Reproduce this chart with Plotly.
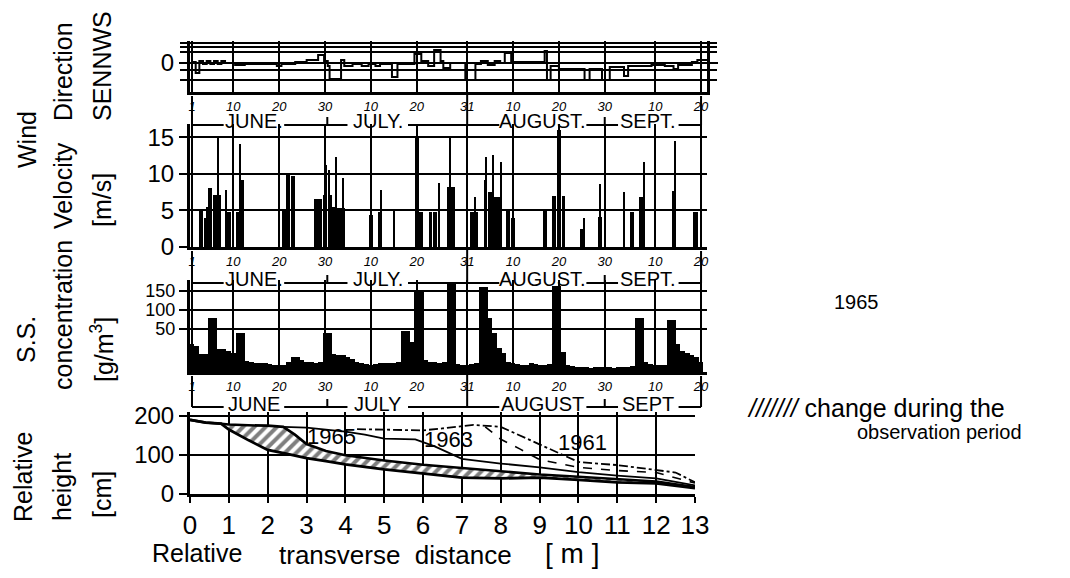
import plotly.graph_objects as go

# ---------------- data ----------------
# time axis: day index, 1 = 1 June 1965 ... 112 = 20 September
tick_days = [1, 10, 20, 30, 40, 50, 61, 71, 81, 91, 102, 112]
tick_text = ["1", "10", "20", "30", "10", "20", "31", "10", "20", "30", "10", "20"]
month_names = ["JUNE", "JULY", "AUGUST", "SEPT"]
month_centres = [14.5, 41.5, 77.5, 100.5]
month_bounds = [1, 30.5, 61, 91, 112]

# wind direction (step changes: day, deviation)
dir_days = [1, 1.8, 2.6, 3.4, 4.2, 5.0, 5.8, 6.6, 7.4, 8.2,
            10.4, 12.5, 19.5, 20.5, 23.5, 26, 28.5, 29.8, 30.6, 31.0,
            33.5, 34.2, 36, 38, 39.5, 41, 42, 44.6, 45.8, 49.5,
            51, 52.5, 53.8, 55.2, 55.8, 57.3, 60.6, 62.8, 64, 65.5,
            67, 68.2, 69.2, 70.6, 77.9, 78.4, 79.2, 81, 86.6, 87.7,
            90.4, 92.1, 95.2, 96.1, 101.2, 104.1, 106, 107, 110, 111.2,
            113.3]
dir_vals = [1, -10, 2, -1, 2, -1, 2, -1, 2, 0,
            -2, -1, -3, -1, 1, 3, 8, 2, -3, -16,
            3, -3, -1, -3, -1, -3, -1, -14, -1, 9,
            2, -3, 13, 2, -5, 0, -17, -1, 2, -2,
            2, 0, 10, 1, 12, -17, -3, -6, -17, -6,
            -17, -4, -13, -3, -2, -3, -6, -2, 1, 3,
            3]
dir_levels = [-17, -7, 11, 16, 20]

# wind velocity [m/s]: daily blocks and short gusts
vel_days = [3, 4, 5, 6, 7, 9, 11, 12, 21, 22, 23, 28, 29, 30, 31, 32, 33, 34,
            40, 42, 50, 51, 53, 54, 57, 58, 62, 63, 65, 66, 67, 68, 70, 71,
            78, 80, 81, 82, 86, 90, 97, 99, 106, 111]
vel_vals = [5.2, 3.9, 8.0, 7.1, 7.1, 4.8, 4.8, 9.1, 5.0, 9.8, 9.7, 6.6, 6.6, 7.1,
            7.1, 5.5, 5.3, 5.3, 4.4, 4.8, 15.0, 4.8, 4.8, 4.8, 8.2, 8.2, 4.8, 4.8,
            9.1, 7.5, 6.8, 6.8, 4.9, 4.0, 5.0, 7.0, 16.0, 7.0, 2.5, 4.1, 4.8, 6.8,
            7.7, 4.8]
gust_days = [4.4, 6.7, 8.5, 11.6, 30.3, 31.0, 32.5, 33.9, 42.3, 45.1, 55.0, 57.3,
             62.7, 65.1, 66.7, 68.4, 86.5, 89.9, 95.2, 99.5, 106.3, 110.4]
gust_vals = [5.4, 15.0, 7.8, 14.1, 11.2, 10.5, 12.3, 9.4, 7.8, 5.1, 8.7, 15.0,
             6.8, 12.3, 12.5, 11.6, 3.9, 8.6, 7.5, 11.6, 14.5, 4.8]
vel_ticks = [0, 5, 10, 15]

# suspended-sediment concentration [g/m3], daily, 1 June - 20 Sept
ss_vals = [33, 30, 21, 21, 80, 80, 27, 27, 25, 22,
           45, 45, 13, 12, 11, 10, 10, 9, 8, 8,
           8, 12, 18, 18, 14, 12, 12, 11, 12, 45,
           45, 21, 20, 20, 18, 15, 12, 10, 9, 8,
           9, 10, 10, 11, 10, 12, 48, 48, 35, 148,
           148, 14, 12, 12, 11, 12, 171, 171, 9, 8,
           8, 9, 10, 160, 160, 80, 45, 28, 22, 12,
           10, 9, 8, 8, 10, 9, 8, 8, 9, 163,
           163, 23, 8, 7, 6, 6, 6, 5, 6, 6,
           6, 6, 5, 6, 6, 6, 7, 78, 78, 12,
           9, 8, 8, 8, 73, 73, 33, 25, 22, 20,
           18, 12]
ss_days = list(range(1, len(ss_vals) + 1))
ss_ticks = [50, 100, 150]

# cross-section profiles: relative distance [m], relative height [cm]
p65_start_x = [0, 0.4, 0.8, 1, 1.5, 2, 2.4, 2.7, 3, 3.5, 4, 5, 6, 7, 8, 9, 10, 11, 12, 13]
p65_start_y = [190, 183, 180, 178, 176, 175, 172, 152, 128, 110, 99, 86, 75, 67, 58, 50, 44, 38, 32, 18]
p65_end_x = [0, 0.4, 0.8, 1, 1.5, 2, 2.5, 3, 3.5, 4, 5, 6, 7, 8, 9, 10, 11, 12, 13]
p65_end_y = [190, 183, 180, 165, 138, 113, 103, 92, 84, 76, 63, 52, 42, 40, 42, 36, 30, 27, 15]
p63_x = [2.4, 3, 4, 4.5, 5, 5.8, 6.3, 7, 8, 9, 10, 11, 12, 13]
p63_y = [172, 170, 160, 152, 142, 140, 122, 90, 78, 68, 56, 47, 40, 22]
p61_x = [4.3, 5, 6, 6.5, 7.3, 8, 9, 9.5, 10, 11, 12, 12.5, 13]
p61_y = [166, 165, 163, 168, 177, 172, 128, 105, 82, 74, 62, 55, 30]
p6x_x = [7.6, 8, 8.5, 9, 10, 11, 12, 13]
p6x_y = [172, 140, 115, 88, 68, 60, 55, 28]
dist_ticks = list(range(0, 14))
height_ticks = [0, 100, 200]

# ---------------- helpers ----------------
W, H = 1070, 578
FONT = "Liberation Sans, Arial, sans-serif"


def py(y):
    return 1 - y / H


def px(x):
    return x / W


def ss_scale(v):
    # broken vertical scale of the original: 0-50 expanded, 50-150 compressed
    return v * 43 / 50 if v <= 50 else 43 + (v - 50) * 19 / 50


fig = go.Figure()

fig.add_trace(go.Scatter(x=dir_days, y=dir_vals, mode="lines",
                         line=dict(shape="hv", color="black", width=2),
                         xaxis="x", yaxis="y", hoverinfo="skip"))
fig.add_trace(go.Bar(x=vel_days, y=vel_vals, width=0.85, marker=dict(color="black", line=dict(width=0)),
                     xaxis="x2", yaxis="y2"))
fig.add_trace(go.Bar(x=gust_days, y=gust_vals, width=0.3, marker=dict(color="black", line=dict(width=0)),
                     xaxis="x2", yaxis="y2"))
fig.add_trace(go.Bar(x=ss_days, y=[ss_scale(v) for v in ss_vals], width=1.0,
                     marker=dict(color="black", line=dict(width=0)),
                     xaxis="x3", yaxis="y3"))

# profiles
fig.add_trace(go.Scatter(x=p65_end_x, y=p65_end_y, mode="lines",
                         line=dict(color="black", width=2.8), xaxis="x4", yaxis="y4"))
fig.add_trace(go.Scatter(x=p65_start_x, y=p65_start_y, mode="lines", fill="tonexty",
                         fillcolor="white",
                         fillpattern=dict(shape="/", fgcolor="black", bgcolor="white", size=8, solidity=0.5),
                         line=dict(color="black", width=2.6), xaxis="x4", yaxis="y4"))
fig.add_trace(go.Scatter(x=p63_x, y=p63_y, mode="lines",
                         line=dict(color="black", width=1.8), xaxis="x4", yaxis="y4"))
fig.add_trace(go.Scatter(x=p61_x, y=p61_y, mode="lines",
                         line=dict(color="black", width=1.8, dash="dashdot"), xaxis="x4", yaxis="y4"))
fig.add_trace(go.Scatter(x=p6x_x, y=p6x_y, mode="lines",
                         line=dict(color="black", width=1.6, dash="dash"), xaxis="x4", yaxis="y4"))

time_domain = [px(190), px(707)]
time_range = [0.56, 113.3]


def time_xaxis(anchor):
    return dict(domain=time_domain, range=time_range, anchor=anchor, automargin=False,
                tickmode="array", tickvals=tick_days, ticktext=tick_text,
                ticks="", showgrid=True, gridcolor="black", gridwidth=1.5,
                showline=True, linecolor="black", linewidth=3, zeroline=False,
                tickfont=dict(family=FONT, size=13, color="black", style="italic"))


def yax(anchor, dom, rng, tv, tt, size=24, mirror=False, minor=None):
    d = dict(domain=dom, range=rng, anchor=anchor, automargin=False, tickmode="array",
             tickvals=tv, ticktext=tt, ticks="outside", ticklen=8, tickwidth=2,
             tickcolor="black", showgrid=True, gridcolor="black", gridwidth=1.5,
             showline=True, linecolor="black", linewidth=3, zeroline=False,
             mirror=mirror,
             tickfont=dict(family=FONT, size=size, color="black"))
    if minor is not None:
        d["minor"] = minor
    return d


layout = dict(
    width=W, height=H, margin=dict(l=0, r=0, t=0, b=0, autoexpand=False),
    paper_bgcolor="white", plot_bgcolor="white", showlegend=False,
    barmode="overlay", bargap=0,
    font=dict(family=FONT, color="black"),
    xaxis=time_xaxis("y"),
    xaxis2=time_xaxis("y2"),
    xaxis3=time_xaxis("y3"),
    xaxis4=dict(domain=[px(190), px(695)], range=[0, 13], anchor="y4", automargin=False,
                tickmode="array", tickvals=dist_ticks, ticktext=[str(t) for t in dist_ticks],
                ticks="outside", ticklen=6, tickwidth=2, tickcolor="black",
                showgrid=True, gridcolor="black", gridwidth=1.5,
                showline=True, linecolor="black", linewidth=3, zeroline=False,
                tickfont=dict(family=FONT, size=26, color="black")),
    yaxis=yax("x", [py(92), py(41)], [-29, 22], [0], ["0"], mirror="ticks",
              minor=dict(tickmode="array", tickvals=dir_levels, ticks="outside", ticklen=7,
                         tickwidth=2, tickcolor="black", showgrid=True, gridcolor="black",
                         gridwidth=1.5)),
    yaxis2=yax("x2", [py(247), py(124)], [0, 16.8], vel_ticks, [str(v) for v in vel_ticks]),
    yaxis3=yax("x3", [py(372), py(280)], [0, 92], [ss_scale(v) for v in ss_ticks],
               [str(v) for v in ss_ticks], size=18),
    yaxis4=yax("x4", [py(494), py(412)], [0, 210], height_ticks, [str(v) for v in height_ticks]),
)

shapes = []
annotations = []


def note(text, x, y, size, xref="paper", yref="paper", angle=0, xanchor="center"):
    annotations.append(dict(text=text, x=x, y=y, xref=xref, yref=yref, textangle=angle,
                            xanchor=xanchor, yanchor="middle", showarrow=False,
                            font=dict(family=FONT, size=size, color="black")))


# month bracket rows under each time panel
rows = [("x", 92, 121, 125, "."), ("x2", 247, 279, 283, "."), ("x3", 372, 404, 407, "")]
for xref, axis_y, text_y, line_y, dot in rows:
    gaps = []
    for name, c in zip(month_names, month_centres):
        hw = 1.45 * len(name) + 0.8
        gaps.append((c - hw, c + hw))
        note(name + dot, c, py(text_y), 20, xref=xref)
    start = month_bounds[0]
    for g0, g1 in gaps:
        shapes.append(dict(type="line", xref=xref, yref="paper", x0=start, x1=g0,
                           y0=py(line_y), y1=py(line_y), line=dict(color="black", width=2)))
        start = g1
    shapes.append(dict(type="line", xref=xref, yref="paper", x0=start, x1=month_bounds[-1],
                       y0=py(line_y), y1=py(line_y), line=dict(color="black", width=2)))
    for i, b in enumerate(month_bounds):
        if i in (0, len(month_bounds) - 1):
            top = axis_y + 4
        elif i == 2:
            top = axis_y
        else:
            top = line_y - 8
        shapes.append(dict(type="line", xref=xref, yref="paper", x0=b, x1=b,
                           y0=py(top), y1=py(line_y), line=dict(color="black", width=2)))

# left rotated axis titles
titles = [("Wind", 27, 140), ("Direction", 63, 72), ("SENNWS", 102, 66),
          ("Velocity", 63, 186), ("concentration", 63, 315), ("[m/s]", 102, 200),
          ("S.S.", 26, 340), ("[g/m<sup>3</sup>]", 102, 350),
          ("Relative", 23, 477), ("height", 62, 487), ("[cm]", 102, 495)]
for t, x, y in titles:
    note(t, px(x), py(y), 25, angle=-90)

# x-axis title pieces
for t, x, y, s in [("Relative", 197, 553, 25), ("transverse  distance", 395, 555, 26),
                   ("[ m ]", 572, 553, 28)]:
    note(t, px(x), py(y), s)

# year labels on profiles
for t, x, y in [("1965", 3.65, 148), ("1963", 6.65, 140), ("1961", 10.1, 131)]:
    note(t, x, y, 22, xref="x4", yref="y4")

# right-hand notes
note("1965", px(856), py(302), 20)
note("<i>///////</i> change during the", px(745), py(408), 25, xanchor="left")
note("observation period", px(855), py(432), 20, xanchor="left")

layout["shapes"] = shapes
layout["annotations"] = annotations
fig.update_layout(**layout)
fig.write_html("out.html")
